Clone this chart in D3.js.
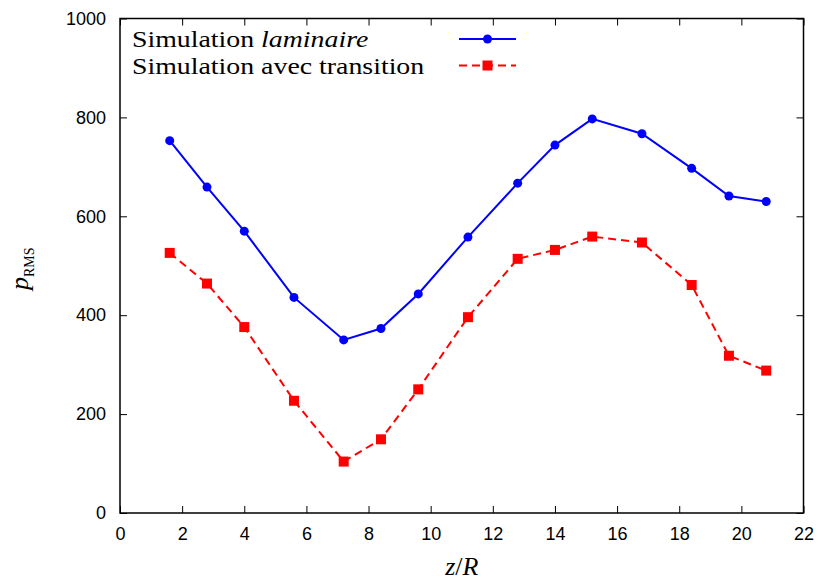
<!doctype html>
<html lang="en">
<head>
  <meta charset="utf-8">
  <title>p_RMS vs z/R</title>
  <script src="https://d3js.org/d3.v7.min.js"></script>
  <style>
    body { margin: 0; background: #fff; }
  </style>
</head>
<body>
  <div id="chart"></div>
  <script type="text/javascript">
	// z/R positions of the probes
	var zR = [1.6, 2.8, 4.0, 5.6, 7.2, 8.4, 9.6, 11.2, 12.8, 14.0, 15.2, 16.8, 18.4, 19.6, 20.8];
	// laminar simulation
	var laminaire = [753, 659, 570, 436, 350, 373, 443, 558, 667, 744, 797, 767, 697, 641, 630];
	// simulation with transition
	var transition = [526, 464, 376, 227, 104, 149, 250, 396, 514, 532, 559, 547, 461, 318, 288];

	var xTicks = [0, 2, 4, 6, 8, 10, 12, 14, 16, 18, 20, 22];
	var yTicks = [0, 200, 400, 600, 800, 1000];

	var width = 818, height = 581;
	var margin = {left: 120, right: 14.5, top: 18.5, bottom: 68};

	var x = d3.scaleLinear().domain([0, 22]).range([margin.left, width - margin.right]);
	var y = d3.scaleLinear().domain([0, 1000]).range([height - margin.bottom, margin.top]);

	var svg = d3.select('#chart')
				.append('svg')
				.attr('width', width)
				.attr('height', height);

	var tickFont = '"Liberation Sans", Arial, sans-serif';
	var serif = '"Liberation Serif", "Times New Roman", serif';

	// axes, ticks inward and mirrored
	function styleAxis(g, showText) {
		g.select('.domain').remove();
		g.selectAll('.tick line').attr('stroke', '#000').attr('stroke-width', 1);
		g.selectAll('.tick text')
			.style('font-family', tickFont)
			.style('font-size', '18px')
			.attr('fill', '#000');
		if (!showText) g.selectAll('.tick text').remove();
	}

	svg.append('g')
		.attr('transform', 'translate(0,' + y(0) + ')')
		.call(d3.axisBottom(x).tickValues(xTicks).tickSize(-7).tickPadding(14).tickFormat(d3.format('d')))
		.call(styleAxis, true);
	svg.append('g')
		.attr('transform', 'translate(0,' + y(1000) + ')')
		.call(d3.axisTop(x).tickValues(xTicks).tickSize(-7))
		.call(styleAxis, false);
	svg.append('g')
		.attr('transform', 'translate(' + x(0) + ',0)')
		.call(d3.axisLeft(y).tickValues(yTicks).tickSize(-7).tickPadding(14).tickFormat(d3.format('d')))
		.call(styleAxis, true);
	svg.append('g')
		.attr('transform', 'translate(' + x(22) + ',0)')
		.call(d3.axisRight(y).tickValues(yTicks).tickSize(-7))
		.call(styleAxis, false);

	// frame
	svg.append('rect')
		.attr('x', x(0)).attr('y', y(1000))
		.attr('width', x(22) - x(0)).attr('height', y(0) - y(1000))
		.attr('fill', 'none').attr('stroke', '#000').attr('stroke-width', 1.5);

	var line = d3.line()
		.x(function(d) { return x(d[0]); })
		.y(function(d) { return y(d[1]); });

	var blueData = zR.map(function(z, i) { return [z, laminaire[i]]; });
	var redData = zR.map(function(z, i) { return [z, transition[i]]; });

	// laminar curve
	svg.append('path')
		.datum(blueData)
		.attr('d', line)
		.attr('fill', 'none').attr('stroke', '#0000ff').attr('stroke-width', 2);
	svg.selectAll('.dot')
		.data(blueData)
		.enter()
		.append('circle')
		.attr('class', 'dot')
		.attr('cx', function(d) { return x(d[0]); })
		.attr('cy', function(d) { return y(d[1]); })
		.attr('r', 4.5)
		.attr('fill', '#0000ff');

	// transition curve
	svg.append('path')
		.datum(redData)
		.attr('d', line)
		.attr('fill', 'none').attr('stroke', '#ff0000').attr('stroke-width', 2)
		.attr('stroke-dasharray', '8,5');
	svg.selectAll('.sq')
		.data(redData)
		.enter()
		.append('rect')
		.attr('class', 'sq')
		.attr('x', function(d) { return x(d[0]) - 5; })
		.attr('y', function(d) { return y(d[1]) - 5; })
		.attr('width', 10).attr('height', 10)
		.attr('fill', '#ff0000');

	// legend (text stretched a bit to match the wider TeX face)
	var leg1 = svg.append('text')
		.attr('transform', 'translate(132,47) scale(1.16,1)')
		.style('font-family', serif).style('font-size', '24px');
	leg1.append('tspan').text('Simulation ');
	leg1.append('tspan').style('font-style', 'italic').text('laminaire');

	svg.append('text')
		.attr('transform', 'translate(132,73.5) scale(1.16,1)')
		.style('font-family', serif).style('font-size', '24px')
		.text('Simulation avec transition');

	svg.append('line')
		.attr('x1', 459).attr('x2', 516).attr('y1', 39).attr('y2', 39)
		.attr('stroke', '#0000ff').attr('stroke-width', 2);
	svg.append('circle').attr('cx', 487.5).attr('cy', 39).attr('r', 4.5).attr('fill', '#0000ff');

	svg.append('line')
		.attr('x1', 459).attr('x2', 516).attr('y1', 65.5).attr('y2', 65.5)
		.attr('stroke', '#ff0000').attr('stroke-width', 2)
		.attr('stroke-dasharray', '8,5');
	svg.append('rect').attr('x', 482.5).attr('y', 60.5).attr('width', 10).attr('height', 10).attr('fill', '#ff0000');

	// axis labels
	svg.append('text')
		.attr('x', x(11)).attr('y', 575)
		.attr('text-anchor', 'middle')
		.style('font-family', serif).style('font-size', '26px')
		.html('<tspan font-style="italic">z</tspan>/<tspan font-style="italic">R</tspan>');

	var yl = svg.append('text')
		.attr('transform', 'translate(28,' + (y(500) + 3) + ') rotate(-90)')
		.attr('text-anchor', 'middle')
		.style('font-family', serif);
	yl.append('tspan').style('font-style', 'italic').style('font-size', '26px').text('p');
	yl.append('tspan').attr('dy', 6).style('font-size', '14px').text('RMS');
  </script>
</body>
</html>
